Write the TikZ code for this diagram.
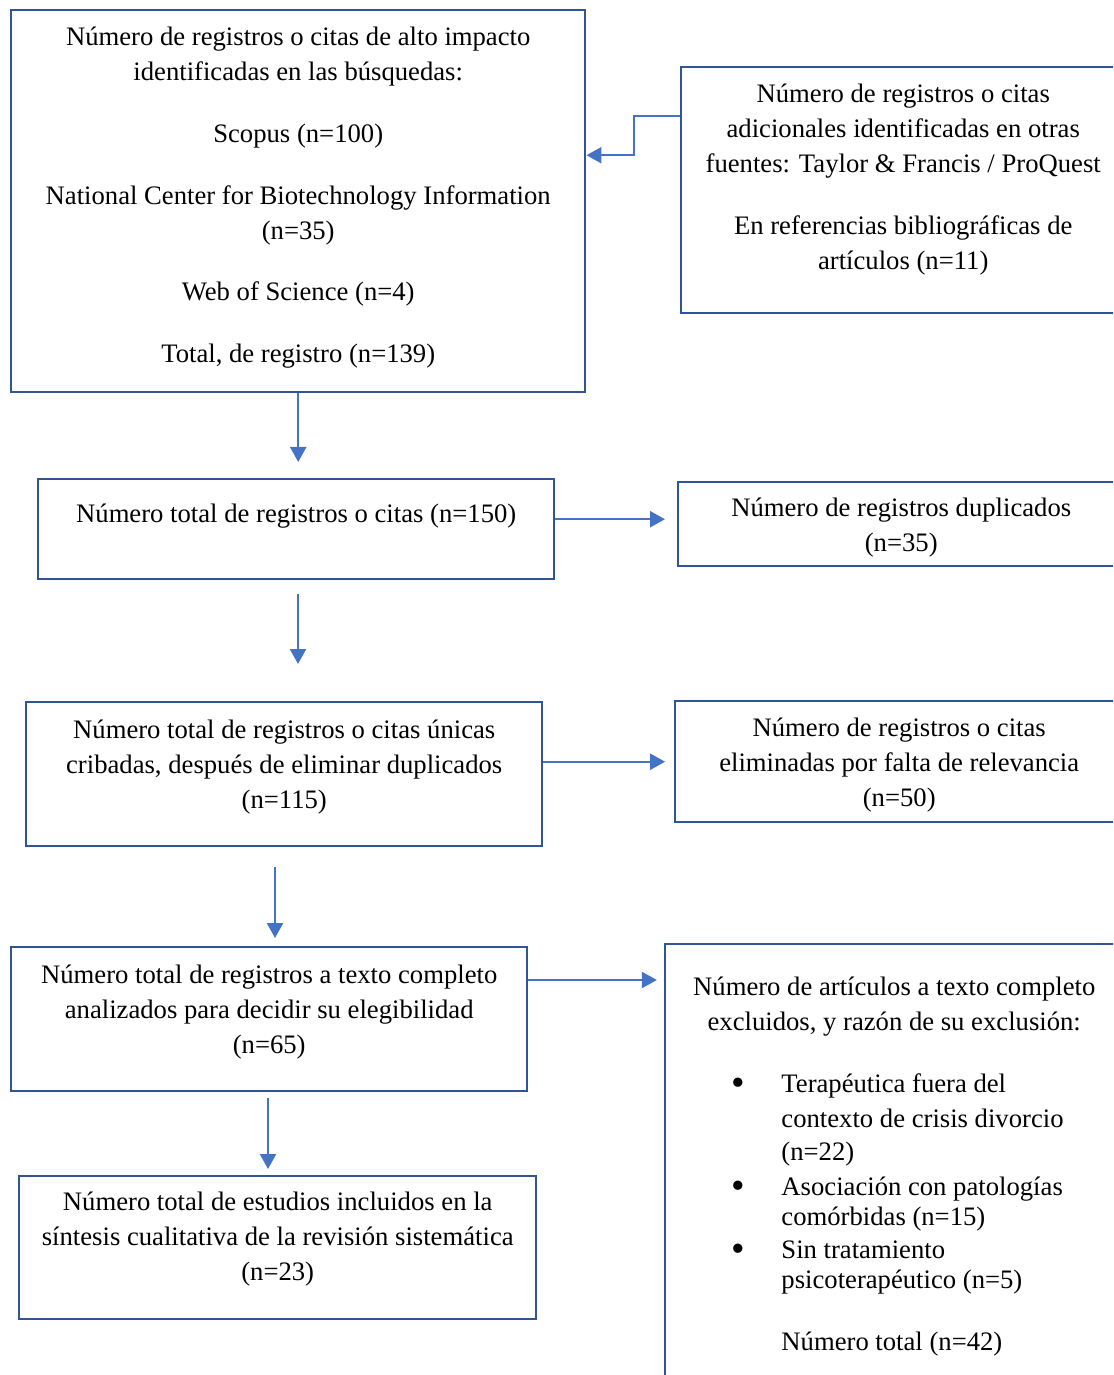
\documentclass[tikz,border=0pt]{standalone}
\usepackage{fontspec}
\setmainfont{Liberation Serif}
\usetikzlibrary{positioning, arrows.meta}
\definecolor{boxblue}{RGB}{47,85,151}
\definecolor{arrblue}{RGB}{68,114,196}
\newcommand{\bigbullet}{\raisebox{-1.2pt}{\scalebox{1.45}{\textbullet}}}

\begin{document}
\begin{tikzpicture}[x=0.45pt, y=0.45pt,
    box/.style={draw=boxblue, line width=1.1pt, anchor=north west, inner sep=0pt},
    boxsize/.style 2 args={minimum width=#1*0.45pt, minimum height=#2*0.45pt},
    txt/.style={font=\fontsize{12pt}{15.75pt}\selectfont, align=center, inner sep=0pt},
    arr/.style={draw=arrblue, line width=1pt, -{Triangle[length=6.75pt, width=7.2pt]}}
]

    % Page frame (the right and bottom boxes run past it)
    \useasboundingbox (0,0) rectangle (1113,-1375);
    \clip (0,0) rectangle (1113,-1375);

    % Boxes
    \node[box, boxsize={574}{382}] (buscas) at (10,-9) {};
    \node[box, boxsize={444}{246}] (otras) at (680,-66) {};
    \node[box, boxsize={516}{100}] (total) at (37,-478) {};
    \node[box, boxsize={446}{84}] (dupl) at (677,-481) {};
    \node[box, boxsize={516}{144}] (unicas) at (25,-701) {};
    \node[box, boxsize={448}{121}] (irrel) at (674,-700) {};
    \node[box, boxsize={516}{144}] (texto) at (10,-946) {};
    \node[box, boxsize={458}{457}] (excl) at (664,-943) {};
    \node[box, boxsize={517}{143}] (incl) at (18,-1175) {};

    % Texts
    \node[txt, below=8pt of buscas.north] (buscas-t) {N\'umero de registros o citas de alto impacto\\
        identificadas en las b\'usquedas:\\[12pt]
        Scopus (n=100)\\[12pt]
        National Center for Biotechnology Information\\
        (n=35)\\[12pt]
        Web of Science (n=4)\\[12pt]
        Total, de registro (n=139)};
    \node[txt, below=8pt of otras.north] (otras-t) {N\'umero de registros o citas\\
        adicionales identificadas en otras\\
        fuentes: Taylor \& Francis / ProQuest\\[12pt]
        En referencias bibliogr\'aficas de\\
        art\'iculos (n=11)};
    \node[txt, below=11.5pt of total.north] (total-t) {N\'umero total de registros o citas (n=150)};
    \node[txt, below=7.5pt of dupl.north] (dupl-t) {N\'umero de registros duplicados\\
        (n=35)};
    \node[txt, below=8.3pt of unicas.north] (unicas-t) {N\'umero total de registros o citas \'unicas\\
        cribadas, despu\'es de eliminar duplicados\\
        (n=115)};
    \node[txt, below=8pt of irrel.north] (irrel-t) {N\'umero de registros o citas\\
        eliminadas por falta de relevancia\\
        (n=50)};
    \node[txt, below=8.5pt of texto.north] (texto-t) {N\'umero total de registros a texto completo\\
        analizados para decidir su elegibilidad\\
        (n=65)};
    \node[txt, below=15.2pt of excl.north] (excl-t) {N\'umero de art\'iculos a texto completo\\
        excluidos, y raz\'on de su exclusi\'on:};
    \node[txt, align=left, anchor=north west] (excl-l) at (731,-1068) {%
        \begin{tabular}{@{}p{22.5pt}@{}l@{}}
        \bigbullet & Terap\'eutica fuera del\\
         & contexto de crisis divorcio\\[-1pt]
         & (n=22)\\
        \bigbullet & Asociaci\'on con patolog\'ias\\[-2.25pt]
         & com\'orbidas (n=15)\\[-1pt]
        \bigbullet & Sin tratamiento\\[-2.25pt]
         & psicoterap\'eutico (n=5)\\[12pt]
         & N\'umero total (n=42)
        \end{tabular}};
    \node[txt, below=7.5pt of incl.north] (incl-t) {N\'umero total de estudios incluidos en la\\
        s\'intesis cualitativa de la revisi\'on sistem\'atica\\
        (n=23)};

    % Loose arrows between the stages
    \coordinate (gap1a) at (298,-594);
    \coordinate (gap1b) at (298,-664);
    \coordinate (gap2a) at (275,-867);
    \coordinate (gap2b) at (275,-938);
    \coordinate (gap3a) at (268,-1098);
    \coordinate (gap3b) at (268,-1169);

    % Connectors
    \draw[arr] ([yshift=-22.5pt]otras.north west) -- ++(-46,0) |- ([yshift=20.7pt]buscas.east);
    \draw[arr, shorten >=7.2pt] (buscas.south) -- (buscas.south |- total.north);
    \draw[arr, shorten >=5.4pt] ([yshift=4.5pt]total.east) -- ([yshift=4.5pt]total.east -| dupl.west);
    \draw[arr] (gap1a) -- (gap1b);
    \draw[arr, shorten >=4pt] (unicas.east |- irrel.west) -- (irrel.west);
    \draw[arr] (gap2a) -- (gap2b);
    \draw[arr, shorten >=3.2pt] ([yshift=-15.3pt]texto.north east) -- ([yshift=-15.3pt]texto.north east -| excl.west);
    \draw[arr] (gap3a) -- (gap3b);

\end{tikzpicture}
\end{document}
